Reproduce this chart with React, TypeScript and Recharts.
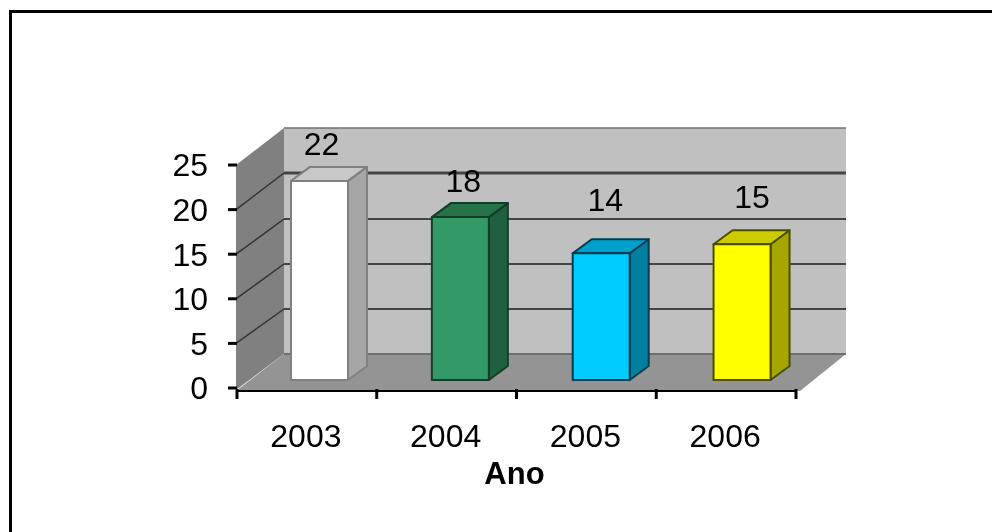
import React from 'react';
import { BarChart, Bar, XAxis, YAxis, LabelList } from 'recharts';

const years = ['2003', '2004', '2005', '2006'];
const counts = [22, 18, 14, 15];
const valueTicks = [0, 5, 10, 15, 20, 25];

const rows = years.map((year, i) => ({ year, count: counts[i] }));

const FONT = '"Liberation Sans", Arial, sans-serif';
const FONT_SIZE = 32;

// plot box of the front plane of the 3D frame
const LEFT = 237;
const RIGHT = 796;
const TOP = 165;
const BOTTOM = 388;
const BAND = (RIGHT - LEFT) / years.length;

// back wall position, gridlines run from the front plane back to these
const BACK_X = 284;
const wallY = [354, 309, 264, 219, 173, 128];

// bars stand a bit inside the floor, and look slightly taller than the axis
const BAR_LIFT = 8;
const BAR_STRETCH = 1.0146;
const barShift = (index: number) => 13 + index * 1.1;

const frontFill = ['#ffffff', '#339966', '#00ccff', '#ffff00'];
const sideFill = ['#a6a6a6', '#206040', '#0080a0', '#a6a600'];
const topFill = ['#c8c8c8', '#267349', '#00a0cc', '#cccc00'];
const edgeColor = ['#808080', '#143d29', '#003d4d', '#4d4d00'];
const labelNudge = [
  { x: 2, y: -26 },
  { x: 3, y: -25 },
  { x: 4, y: -42 },
  { x: 10, y: -36 },
];

const frontY = (v: number) => BOTTOM - ((BOTTOM - TOP) * v) / 25;

const Walls = () => (
  <g>
    <polygon points={`${BACK_X},128 846,128 846,354 ${BACK_X},354`} fill="#c0c0c0" />
    <polygon points={`236,${TOP} ${BACK_X},128 ${BACK_X},354 236,390`} fill="#808080" />
    <polygon points={`236,391 ${BACK_X},354 846,354 800,391`} fill="#949494" />
    <line x1={BACK_X} y1={128} x2={846} y2={128} stroke="#707070" strokeWidth={1.5} />
    <line x1={BACK_X} y1={354} x2={846} y2={354} stroke="#6e6e6e" strokeWidth={2} />
    {valueTicks.slice(1, 5).map((v, i) => (
      <g key={v}>
        <line x1={BACK_X} y1={wallY[i + 1]} x2={846} y2={wallY[i + 1]} stroke="#444" strokeWidth={v === 20 ? 3 : 2} />
        <line x1={236} y1={frontY(v)} x2={BACK_X} y2={wallY[i + 1]} stroke="#333" strokeWidth={1.5} />
      </g>
    ))}
  </g>
);

const Box3D = (props: any) => {
  const { x, y, width, height, index } = props;
  const l = x + barShift(index);
  const r = l + width;
  const b = y + height - BAR_LIFT;
  const h = height * BAR_STRETCH;
  const t = b - h;
  const d = 19;
  const u = 14;
  return (
    <g stroke={edgeColor[index]} strokeWidth={2} strokeLinejoin="round">
      <polygon points={`${r},${t} ${r + d},${t - u} ${r + d},${b - u} ${r},${b}`} fill={sideFill[index]} />
      <polygon points={`${l},${t} ${l + d},${t - u} ${r + d},${t - u} ${r},${t}`} fill={topFill[index]} />
      <rect x={l} y={t} width={width} height={h} fill={frontFill[index]} />
    </g>
  );
};

const YearTick = (props: any) => {
  const { x, payload, index } = props;
  const left = x - BAND / 2;
  const right = x + BAND / 2;
  return (
    <g>
      <line x1={left} y1={391} x2={right} y2={391} stroke="#000" strokeWidth={2} />
      <line x1={left} y1={389} x2={left} y2={399} stroke="#000" strokeWidth={3} />
      {index === years.length - 1 && (
        <line x1={right} y1={389} x2={right} y2={399} stroke="#000" strokeWidth={3} />
      )}
      <text x={x - 1} y={447} textAnchor="middle" fontFamily={FONT} fontSize={FONT_SIZE} fill="#000">
        {payload.value}
      </text>
    </g>
  );
};

const CountLabel = (props: any) => {
  const { x, y, width, height, value, index } = props;
  const n = labelNudge[index];
  const t = y + height - BAR_LIFT - height * BAR_STRETCH;
  return (
    <text
      x={x + width / 2 + barShift(index) + n.x}
      y={t + n.y}
      textAnchor="middle"
      fontFamily={FONT}
      fontSize={FONT_SIZE}
      fill="#000"
    >
      {value}
    </text>
  );
};

export default function App() {
  return (
    <div
      style={{
        position: 'absolute',
        left: 0,
        top: 0,
        width: 992,
        height: 532,
        overflow: 'hidden',
        background: '#fff',
      }}
    >
      <div style={{ position: 'absolute', left: 9, top: 10, right: 0, height: 3, background: '#000' }} />
      <div style={{ position: 'absolute', left: 9, top: 10, bottom: 0, width: 3, background: '#000' }} />
      <div style={{ position: 'absolute', left: 0, top: 0, filter: 'blur(0.5px)' }}>
        <BarChart
          width={992}
          height={532}
          data={rows}
          barSize={57}
          margin={{ top: TOP, left: LEFT - 70, right: 992 - RIGHT, bottom: 532 - BOTTOM - 110 }}
        >
          <Walls />
          <XAxis
            dataKey="year"
            height={110}
            axisLine={false}
            tickLine={false}
            tick={<YearTick />}
            label={{
              value: 'Ano',
              position: 'insideBottom',
              dx: -2,
              dy: -9,
              style: { fontFamily: FONT, fontSize: 31, fontWeight: 700, fill: '#000' },
            }}
          />
          <YAxis
            width={70}
            domain={[0, 25]}
            ticks={valueTicks}
            interval={0}
            axisLine={false}
            tickSize={9}
            tickMargin={20}
            tickLine={{ stroke: '#000', strokeWidth: 3 }}
            tick={{ fontFamily: FONT, fontSize: FONT_SIZE, fill: '#000' }}
          />
          <Bar dataKey="count" shape={<Box3D />} isAnimationActive={false}>
            <LabelList dataKey="count" content={<CountLabel />} />
          </Bar>
        </BarChart>
      </div>
    </div>
  );
}
